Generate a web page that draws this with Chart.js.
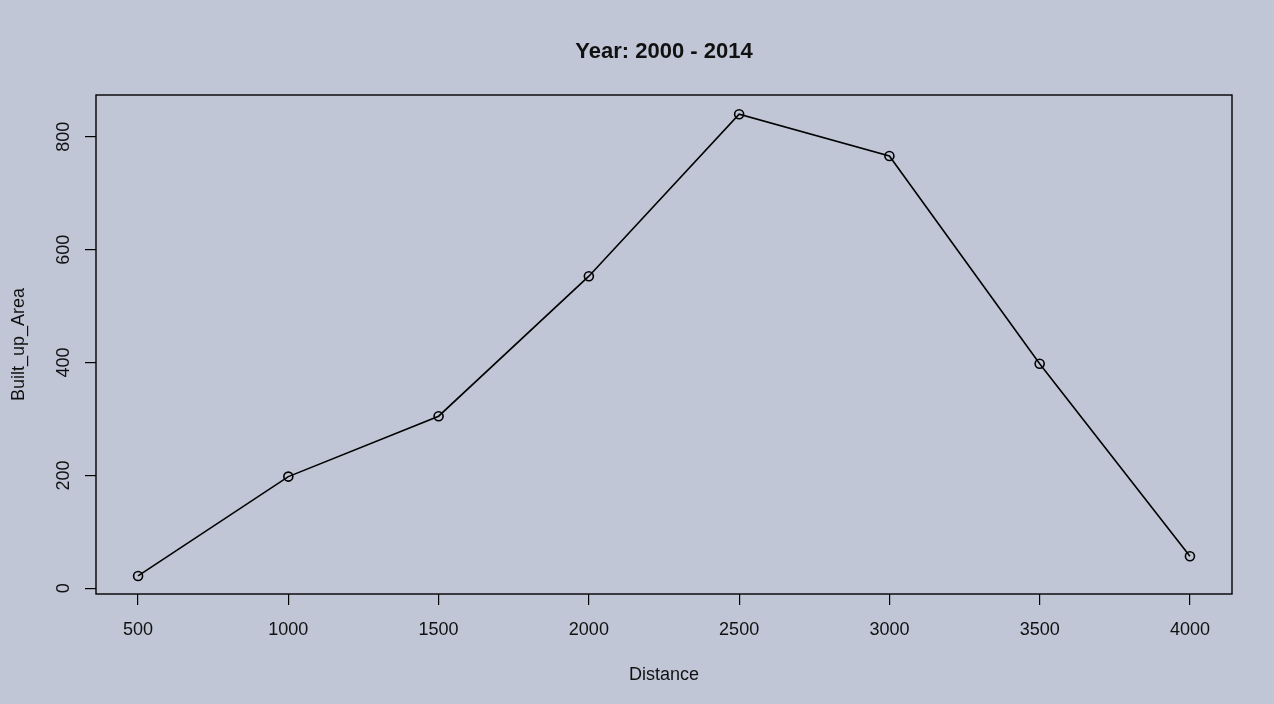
<!DOCTYPE html>
<html>
<head>
<meta charset="utf-8">
<script src="https://cdn.jsdelivr.net/npm/chart.js@4/dist/chart.umd.min.js"></script>
<style>
  html, body { margin: 0; padding: 0; background: #c0c6d6; }
  #wrap { width: 1274px; height: 704px; }
</style>
</head>
<body>
<div id="wrap"><canvas id="plot"></canvas></div>
<script>
// data
const distance = [500, 1000, 1500, 2000, 2500, 3000, 3500, 4000];
const builtUpArea = [22, 198, 305, 553, 840, 766, 398, 57];
const xTicks = [500, 1000, 1500, 2000, 2500, 3000, 3500, 4000];
const yTicks = [0, 200, 400, 600, 800];

const FONT = "'Liberation Sans', Arial, sans-serif";
const INK = '#111';

// box around the plot region, like R's box()
const boxPlugin = {
  id: 'box',
  afterDatasetsDraw(chart) {
    const { ctx, chartArea: a } = chart;
    ctx.save();
    ctx.strokeStyle = '#000';
    ctx.lineWidth = 1.4;
    ctx.strokeRect(a.left, a.top, a.right - a.left, a.bottom - a.top);
    ctx.restore();
  }
};

const tickGrid = { drawOnChartArea: false, drawTicks: true, tickLength: 11, color: '#000', lineWidth: 1.2 };

const ctx = document.getElementById('plot').getContext('2d');
const chart = new Chart(ctx, {
  type: 'line',
  data: {
    datasets: [{
      data: distance.map((d, i) => ({ x: d, y: builtUpArea[i] })),
      borderColor: '#000',
      borderWidth: 1.6,
      pointRadius: 4.5,
      pointBorderWidth: 1.6,
      pointBorderColor: '#000',
      pointBackgroundColor: 'rgba(0,0,0,0)',
      tension: 0
    }]
  },
  options: {
    responsive: true,
    maintainAspectRatio: false,
    animation: false,
    layout: { padding: { top: 0, left: 0, right: 42, bottom: 0 } },
    plugins: { legend: { display: false }, tooltip: { enabled: false } },
    scales: {
      x: {
        type: 'linear',
        position: 'bottom',
        min: 360,
        max: 4140,
        afterBuildTicks: (s) => { s.ticks = xTicks.map(v => ({ value: v })); },
        afterFit: (s) => { s.height = 110; },
        grid: tickGrid,
        border: { display: false },
        ticks: {
          color: INK, padding: 14, maxRotation: 0, autoSkip: false,
          font: { family: FONT, size: 18 },
          callback: (v) => String(v)
        },
        title: {
          display: true, text: 'Distance', color: INK,
          font: { family: FONT, size: 18 },
          padding: { top: 0, bottom: 18 }
        }
      },
      top: {
        type: 'linear',
        position: 'top',
        min: 360,
        max: 4140,
        afterFit: (s) => { s.height = 95; },
        grid: { display: false },
        border: { display: false },
        ticks: { display: false },
        title: {
          display: true, text: 'Year: 2000 - 2014', color: INK,
          font: { family: FONT, size: 22, weight: 'bold' },
          padding: { top: 39, bottom: 0 }
        }
      },
      y: {
        type: 'linear',
        min: -10,
        max: 874,
        afterBuildTicks: (s) => { s.ticks = yTicks.map(v => ({ value: v })); },
        afterFit: (s) => { s.width = 96; },
        grid: tickGrid,
        border: { display: false },
        ticks: {
          color: INK, padding: 6, minRotation: 90, maxRotation: 90,
          crossAlign: 'center', autoSkip: false,
          font: { family: FONT, size: 18 },
          callback: (v) => String(v)
        },
        title: {
          display: true, text: 'Built_up_Area', color: INK,
          font: { family: FONT, size: 18 },
          padding: { top: 8, bottom: 0 }
        }
      }
    }
  },
  plugins: [boxPlugin]
});
</script>
</body>
</html>
